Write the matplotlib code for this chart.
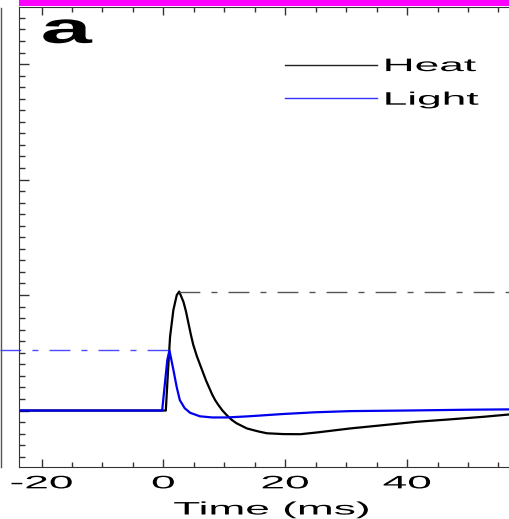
import matplotlib
matplotlib.use("Agg")
import matplotlib.pyplot as plt
from matplotlib.lines import Line2D
from matplotlib.patches import Rectangle
from matplotlib.patheffects import AbstractPathEffect
from matplotlib.ticker import MultipleLocator
from matplotlib.transforms import Affine2D

# values (time in ms, signal in major-tick units)
heat_t = [-24, 0.4, 0.77, 1.1, 1.64, 2.2, 2.6, 3.3, 3.7, 4.1, 4.5, 4.9, 5.5,
          6.0, 6.5, 7.0, 7.5, 8.0, 8.5, 9.0, 9.7, 10.4, 11.2, 12.0, 13.7,
          15.5, 17.0, 19.7, 22.5, 25.2, 30.7, 36.2, 41.7, 47.2, 52.6, 57]
heat_v = [0, 0, 0.35, 0.64, 0.87, 1.0, 1.03, 0.94, 0.86, 0.76, 0.66, 0.57,
          0.47, 0.40, 0.33, 0.26, 0.20, 0.14, 0.09, 0.05, 0.0, -0.04, -0.08,
          -0.11, -0.155, -0.18, -0.197, -0.204, -0.205, -0.19, -0.155,
          -0.126, -0.097, -0.076, -0.054, -0.033]
light_t = [-24, -0.2, 0.3, 0.65, 1.0, 1.65, 2.2, 2.7, 3.5, 4.4, 6, 8, 10.4,
           14, 19.7, 25, 30.7, 40, 50, 57]
light_v = [0, 0, 0.26, 0.44, 0.52, 0.35, 0.2, 0.09, 0.02, -0.02, -0.05,
           -0.06, -0.06, -0.05, -0.03, -0.015, -0.005, 0.0, 0.007, 0.01]

series_names = ['Heat', 'Light']
xticks = [-20, 0, 20, 40]
xtick_labels = ['-20', '0', '20', '40']
yticks = [0, 1, 2, 3]
xlabel = 'Time (ms)'
panel = 'a'


class Stretch(AbstractPathEffect):
    # the source picture is squashed, glyphs look about twice as wide
    def __init__(self, sx, anchor='left'):
        super().__init__()
        self.sx = sx
        self.anchor = anchor

    def draw_path(self, renderer, gc, tpath, affine, rgbFace=None):
        ext = tpath.get_extents()
        cx = {'left': 0.0, 'center': (ext.x0 + ext.x1) / 2,
              'right': ext.x1}[self.anchor]
        tr = Affine2D().translate(-cx, 0).scale(self.sx, 1).translate(cx, 0)
        renderer.draw_path(gc, tpath, tr + affine, rgbFace)


plt.rcParams['font.family'] = ['Liberation Sans', 'DejaVu Sans']
plt.rcParams['lines.scale_dashes'] = False

fig = plt.figure(figsize=(5.1, 5.19), dpi=100)
ax = fig.add_axes([19 / 510, 52 / 519, 491 / 510, 460 / 519])

ax.plot(heat_t, heat_v, color='black', lw=1.6)
ax.plot(light_t, light_v, color='#0000ee', lw=1.6)

ax.set_xlim(-23.7, 56.9)
ax.set_ylim(-0.489, 3.494)

# dash-dot guides at the two peaks
dashdot = (0, (15, 8, 4.3, 8))
ih = heat_v.index(max(heat_v))
ax.plot([heat_t[ih], ax.get_xlim()[1]], [heat_v[ih]] * 2, color='#555555',
        lw=1.0, ls=dashdot)
il = light_v.index(max(light_v))
x_left = ax.transData.inverted().transform(fig.transFigure.transform((0, 0)))[0]
ax.plot([x_left, light_t[il]], [light_v[il]] * 2, color='#4a4aff', lw=1.0,
        ls=dashdot, clip_on=False)

ax.set_xticks(xticks, xtick_labels)
ax.xaxis.set_minor_locator(MultipleLocator(5))
ax.set_yticks(yticks, [])
ax.yaxis.set_minor_locator(MultipleLocator(0.1))
ax.tick_params(which='both', direction='in', top=True, bottom=True,
               left=True, right=False, width=1, color='#333333')
ax.tick_params(axis='x', which='major', length=6.1, labelsize=13, pad=6)
ax.tick_params(axis='x', which='minor', length=3.6)
ax.tick_params(axis='y', which='major', length=7.2)
ax.tick_params(axis='y', which='minor', length=4.3)
for s in ['left', 'bottom', 'top']:
    ax.spines[s].set_color('#333333')
ax.spines['right'].set_visible(False)
for lab in ax.get_xticklabels():
    lab.set_path_effects([Stretch(2.45, 'center')])

ax.set_xlabel(xlabel, fontsize=13)
ax.xaxis.set_label_coords(0.514, -0.075)
ax.xaxis.label.set_path_effects([Stretch(2.45, 'center')])

handles = [Line2D([], [], color='#222222', lw=1.0),
           Line2D([], [], color='#3333ff', lw=1.0)]
leg = ax.legend(handles, series_names, loc='upper left',
                bbox_to_anchor=((285 - 19) / 491, 0.889), frameon=False,
                fontsize=13, handlelength=5.08, handletextpad=0.33,
                labelspacing=0.92, borderpad=0, borderaxespad=0)
for t in leg.get_texts():
    t.set_path_effects([Stretch(2.45)])

ax.text(0.044, 0.922, panel, transform=ax.transAxes, fontsize=31.5,
        fontweight='bold', ha='left', va='baseline',
        path_effects=[Stretch(2.1)])

# magenta strip on top and the edge of the neighbouring panel
fig.add_artist(Rectangle((19 / 510, 513.5 / 519), 491 / 510, 5.5 / 519,
                         transform=fig.transFigure, color='#ff00ff', lw=0))
fig.add_artist(Line2D([1.5 / 510] * 2, [52 / 519, 511 / 519],
                      transform=fig.transFigure, color='#555555', lw=1))

fig.savefig('out.png', dpi=100)
